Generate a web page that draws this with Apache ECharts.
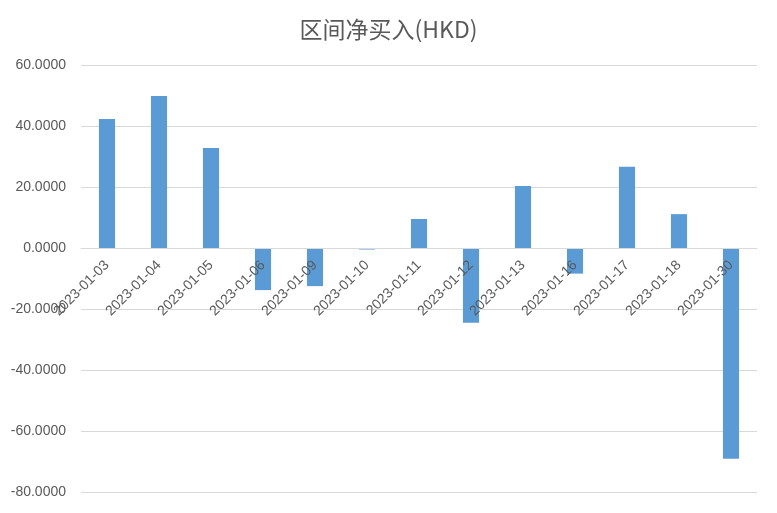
<!DOCTYPE html>
<html>
<head>
<meta charset="utf-8">
<script src="https://cdn.jsdelivr.net/npm/echarts@6/dist/echarts.min.js"></script>
<style>
  html, body { margin: 0; padding: 0; background: #fff; }
  #main { width: 777px; height: 513px; }
</style>
</head>
<body>
<div id="main"></div>
<script>
var titleText = '区间净买入(HKD)';
var dates = ['2023-01-03', '2023-01-04', '2023-01-05', '2023-01-06', '2023-01-09', '2023-01-10', '2023-01-11',
             '2023-01-12', '2023-01-13', '2023-01-16', '2023-01-17', '2023-01-18', '2023-01-30'];
var netBuy = [42.3, 49.8, 32.8, -13.8, -12.5, -0.5, 9.5, -24.5, 20.3, -8.4, 26.6, 11.1, -69.1];
var yMin = -80, yMax = 60, yStep = 20;

var chartH = 513, gridTop = 65, gridBottom = 21;
var plotH = chartH - gridTop - gridBottom;
// 横轴标签放在0线上
var zeroOffset = -plotH * (0 - yMin) / (yMax - yMin);

var chart = echarts.init(document.getElementById('main'));
var option = {
    animation: false,
    title: {
        text: titleText,
        left: 'center',
        top: 13,
        textStyle: { fontFamily: 'Noto Sans CJK SC', fontSize: 23, fontWeight: 'normal', color: '#595959' }
    },
    grid: { left: 81, right: 20, top: gridTop, bottom: gridBottom, containLabel: false, outerBoundsMode: 'none' },
    xAxis: {
        type: 'category',
        data: dates,
        offset: zeroOffset,
        z: 5,   // 标签压在柱子上面
        axisLine: { onZero: false, lineStyle: { color: '#d9d9d9' } },
        axisTick: { show: false },
        axisLabel: {
            rotate: 45,
            interval: 0,
            margin: 15,
            color: '#595959',
            fontFamily: 'Liberation Sans',
            fontSize: 14
        }
    },
    yAxis: {
        type: 'value',
        min: yMin,
        max: yMax,
        interval: yStep,
        axisLine: { show: false },
        axisTick: { show: false },
        splitLine: { lineStyle: { color: '#d9d9d9' } },
        axisLabel: {
            margin: 15,
            color: '#595959',
            fontFamily: 'Liberation Sans',
            fontSize: 14,
            formatter: function (v) { return v.toFixed(4); }
        }
    },
    series: [{
        type: 'bar',
        data: netBuy,
        barWidth: '31%',
        itemStyle: { color: '#5b9bd5' }
    }]
};
chart.setOption(option);
</script>
</body>
</html>
